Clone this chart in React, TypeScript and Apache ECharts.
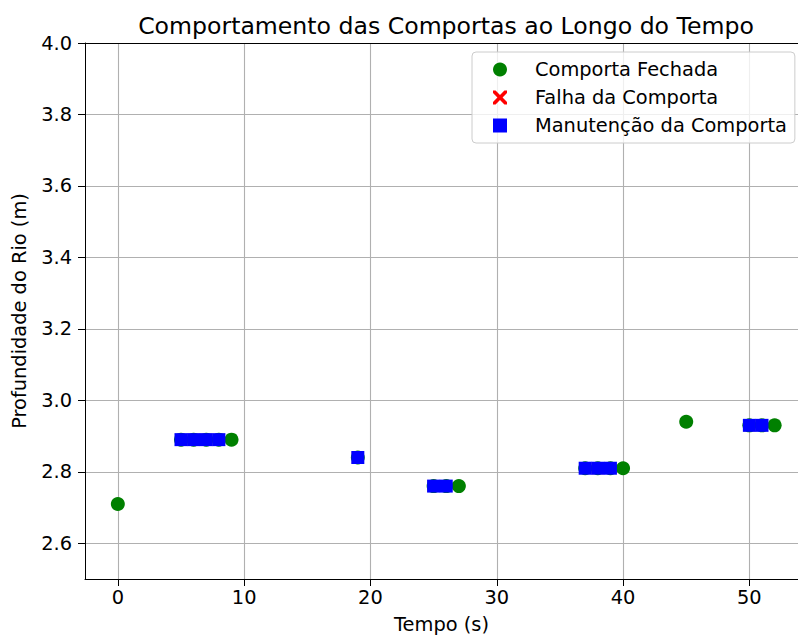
import React, { useEffect, useRef } from "react";
import * as echarts from "echarts";

const TITLE = "Comportamento das Comportas ao Longo do Tempo";
const X_LABEL = "Tempo (s)";
const Y_LABEL = "Profundidade do Rio (m)";

const X_TICKS = [0, 10, 20, 30, 40, 50];
const Y_TICKS = [2.6, 2.8, 3.0, 3.2, 3.4, 3.6, 3.8, 4.0];
const X_MIN = -2.6;
const X_MAX = 53.85;
const Y_MIN = 2.5;
const Y_MAX = 4.0;

// Comporta Fechada (closed)
const closedTimes = [0, 5, 6, 7, 8, 9, 19, 25, 26, 27, 37, 38, 39, 40, 45, 50, 51, 52];
const closedDepths = [2.71, 2.89, 2.89, 2.89, 2.89, 2.89, 2.84, 2.76, 2.76, 2.76, 2.81, 2.81, 2.81, 2.81, 2.94, 2.93, 2.93, 2.93];

// Falha da Comporta (failure)
const failTimes = [6, 7, 19, 25, 38, 50];
const failDepths = [2.89, 2.89, 2.84, 2.76, 2.81, 2.93];

// Manutenção da Comporta (maintenance)
const maintTimes = [5, 6, 7, 8, 19, 25, 26, 37, 38, 39, 50, 51];
const maintDepths = [2.89, 2.89, 2.89, 2.89, 2.84, 2.76, 2.76, 2.81, 2.81, 2.81, 2.93, 2.93];

const FONT = "DejaVu Sans";
const TICK_FS = 19.4;
const TITLE_FS = 23.6;
const X_PATH =
  "path://M0,0 L2.2,0 L6,3.8 L9.8,0 L12,0 L12,2.2 L8.2,6 L12,9.8 L12,12 L9.8,12 L6,8.2 L2.2,12 L0,12 L0,9.8 L3.8,6 L0,2.2 Z";

const zip = (xs: number[], ys: number[]) => xs.map((x, i) => [x, ys[i]]);

export default function App() {
  const ref = useRef<HTMLDivElement>(null);
  useEffect(() => {
    if (!ref.current) return;
    const chart = echarts.init(ref.current, undefined, { renderer: "svg" });
    chart.setOption({
      animation: false,
      backgroundColor: "#ffffff",
      textStyle: { fontFamily: FONT },
      title: {
        text: TITLE,
        left: 441,
        textAlign: "center",
        top: 9,
        textStyle: { fontFamily: FONT, fontSize: TITLE_FS, fontWeight: "normal", color: "#000" },
      },
      legend: {
        orient: "vertical",
        left: 472,
        top: 52,
        padding: [8, 8, 8, 21],
        itemWidth: 14,
        itemHeight: 14,
        itemGap: 9,
        backgroundColor: "rgba(255,255,255,0.8)",
        borderColor: "#cccccc",
        borderWidth: 1,
        borderRadius: 4,
        textStyle: { fontFamily: FONT, fontSize: TICK_FS, color: "#000", padding: [0, 0, 0, 23], lineHeight: 19 },
        data: ["Comporta Fechada", "Falha da Comporta", "Manutenção da Comporta"],
      },
      grid: {
        left: 85,
        top: 43,
        right: 0,
        bottom: 59,
        show: false,
      },
      xAxis: [
        {
          type: "value",
          min: X_MIN,
          max: X_MAX,
          name: X_LABEL,
          nameLocation: "middle",
          nameGap: 36,
          nameTextStyle: { fontFamily: FONT, fontSize: TICK_FS, color: "#000" },
          axisLine: { show: true, onZero: false, lineStyle: { color: "#000", width: 1 } },
          axisTick: { show: true, length: 7, lineStyle: { color: "#000" }, customValues: X_TICKS },
          axisLabel: { fontFamily: FONT, fontSize: TICK_FS, color: "#000", margin: 9, customValues: X_TICKS },
          splitLine: { show: true, lineStyle: { color: "#b0b0b0", width: 1.1 } },
        },
        {
          type: "value",
          position: "top",
          min: X_MIN,
          max: X_MAX,
          axisLine: { show: true, onZero: false, lineStyle: { color: "#000", width: 1 } },
          axisTick: { show: false },
          axisLabel: { show: false },
          splitLine: { show: false },
        },
      ],
      yAxis: {
        type: "value",
        min: Y_MIN,
        max: Y_MAX,
        name: Y_LABEL,
        nameLocation: "middle",
        nameGap: 56,
        nameTextStyle: { fontFamily: FONT, fontSize: TICK_FS, color: "#000" },
        axisLine: { show: true, onZero: false, lineStyle: { color: "#000", width: 1 } },
        axisTick: { show: true, length: 7, lineStyle: { color: "#000" }, customValues: Y_TICKS },
        axisLabel: {
          fontFamily: FONT,
          fontSize: TICK_FS,
          color: "#000",
          margin: 13,
          customValues: Y_TICKS,
          formatter: (v: number) => v.toFixed(1),
        },
        splitLine: { show: true, lineStyle: { color: "#b0b0b0", width: 1.1 } },
      },
      series: [
        {
          name: "Comporta Fechada",
          type: "scatter",
          symbol: "circle",
          symbolSize: 14,
          itemStyle: { color: "#008000", opacity: 1 },
          data: zip(closedTimes, closedDepths),
          z: 2,
        },
        {
          name: "Falha da Comporta",
          type: "scatter",
          symbol: X_PATH,
          symbolSize: 12,
          itemStyle: { color: "#ff0000", opacity: 1 },
          data: zip(failTimes, failDepths),
          z: 3,
        },
        {
          name: "Manutenção da Comporta",
          type: "scatter",
          symbol: "rect",
          symbolSize: 13,
          itemStyle: { color: "#0000ff", opacity: 1 },
          data: zip(maintTimes, maintDepths),
          z: 4,
        },
      ],
    });
    return () => chart.dispose();
  }, []);
  return (
    <div
      ref={ref}
      style={{ position: "fixed", left: 0, top: 0, width: 798, height: 639, overflow: "hidden" }}
    />
  );
}
